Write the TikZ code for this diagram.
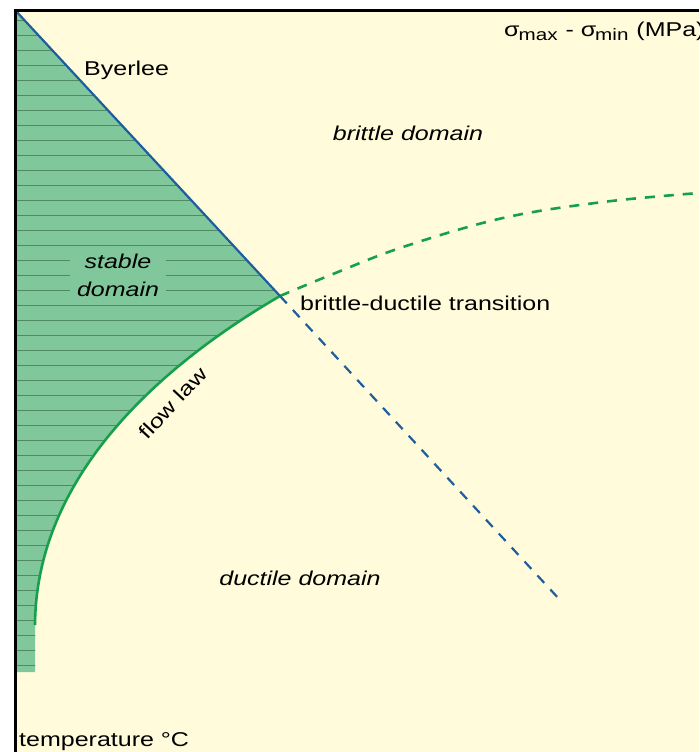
\documentclass[tikz,border=0pt]{standalone}
\usepackage{fontspec}
\setmainfont[FakeStretch=1.25]{Liberation Sans}
\definecolor{bg}{HTML}{FFFBDB}
\definecolor{gfill}{HTML}{80C89C}
\definecolor{ghatch}{HTML}{4F8A63}
\definecolor{bline}{HTML}{1F5E9E}
\definecolor{gline}{HTML}{17A04C}
\newcommand{\subtxt}[1]{\raisebox{-4pt}{\fontsize{16.5}{18}\selectfont #1}}
\tikzset{
  lbl/.style={font=\fontsize{20}{28}\selectfont, inner sep=0pt},
  ilbl/.style={font=\fontsize{20}{28}\selectfont\itshape, inner sep=0pt},
  axisline/.style={line width=3pt, black},
  byer/.style={line width=2.2pt, bline},
  flow/.style={line width=2.6pt, gline},
  dsh/.style={dash pattern=on 10pt off 9pt},
}
\begin{document}
\begin{tikzpicture}[x=1pt,y=-1pt]
\useasboundingbox (0,0) rectangle (699,752);
\fill[white] (0,0) rectangle (699,752);
\fill[bg] (15,10) rectangle (699,752);
% green stable region
\coordinate (O) at (15,10);
\coordinate (T) at (280,296);
\coordinate (F) at (35,625);
\path[fill=gfill] (O) -- (T) .. controls (170,360) and (36,470) .. (F) -- (35,672) -- (15,672) -- cycle;
\begin{scope}
  \clip (O) -- (T) .. controls (170,360) and (36,470) .. (F) -- (35,672) -- (15,672) -- cycle;
  \foreach \k in {0,...,43} {
    \draw[ghatch, line width=1pt] (15,20.5+15*\k) -- (300,20.5+15*\k);
  }
\end{scope}
\node[ilbl, fill=gfill, align=center, inner xsep=7pt, inner ysep=1pt] (stab) at (118,275) {stable\\domain};
% curves
\draw[flow, dsh] plot[smooth, tension=0.6] coordinates {(280,296) (333,274) (403,247) (503,218) (603,202) (699,193)};
\draw[byer, dsh] (T) -- (560,600);
\draw[flow] (F) .. controls (36,470) and (170,360) .. (T);
\draw[byer] (O) -- (T);
% axes
\draw[axisline] (699,11) -- (15.5,11) -- (15.5,752);
% labels
\node[lbl, anchor=base west] (by) at (84,75) {Byerlee};
\node[lbl, anchor=base west] (sig) at (504,37) {σ\kern-1pt\subtxt{max}\kern1pt{} - σ\kern-1pt\subtxt{min}\kern1pt{} (MPa)};
\node[ilbl, anchor=base] (bd) at (408,140) {brittle domain};
\node[lbl, anchor=base west] (bdt) at (300,310) {brittle-ductile transition};
\node[lbl, rotate=47] (fl) at (173,403) {flow law};
\node[ilbl, anchor=base] (dd) at (300,585) {ductile domain};
\node[lbl, anchor=base west] (tc) at (19,746) {temperature °C};
\end{tikzpicture}
\end{document}
